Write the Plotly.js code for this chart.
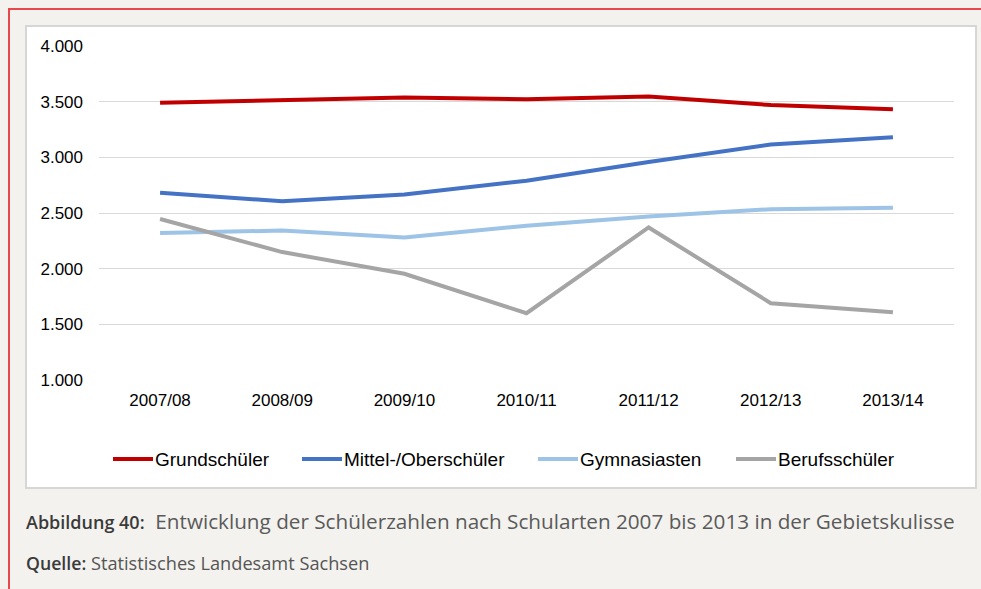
<!DOCTYPE html>
<html>
<head>
<meta charset="utf-8">
<script src="https://cdn.plot.ly/plotly-3.0.1.min.js"></script>
<style>
html,body{margin:0;padding:0;background:#f3f2ee;}
#chart{width:981px;height:589px;}
</style>
</head>
<body>
<div id="chart"></div>
<script>
// ---- data ----
const years = ["2007/08","2008/09","2009/10","2010/11","2011/12","2012/13","2013/14"];
const grundschueler = [3490, 3512, 3538, 3522, 3546, 3470, 3432];
const mittelOberschueler = [2682, 2605, 2666, 2790, 2958, 3116, 3180];
const gymnasiasten = [2320, 2342, 2281, 2386, 2468, 2534, 2548];
const berufsschueler = [2446, 2149, 1954, 1600, 2370, 1690, 1608];
const seriesNames = ["Grundschüler", "Mittel-/Oberschüler", "Gymnasiasten", "Berufsschüler"];
const seriesColors = ["#c00000", "#4472c4", "#9dc3e6", "#a5a5a5"];
const yTickVals = [1000, 1500, 2000, 2500, 3000, 3500, 4000];
const yTickText = ["1.000", "1.500", "2.000", "2.500", "3.000", "3.500", "4.000"];
const captionLabel = "Abbildung 40:";
const captionText = "Entwicklung der Schülerzahlen nach Schularten 2007 bis 2013 in der Gebietskulisse";
const sourceLabel = "Quelle:";
const sourceText = "Statistisches Landesamt Sachsen";

// ---- layout geometry (pixels) ----
const W = 981, H = 589;
const M = {l: 99, r: 27, t: 46, b: 209};
const PW = W - M.l - M.r, PH = H - M.t - M.b;
const px = x => (x - M.l) / PW;        // pixel -> paper x
const py = y => (H - M.b - y) / PH;    // pixel -> paper y

const seriesValues = [grundschueler, mittelOberschueler, gymnasiasten, berufsschueler];
const traces = seriesValues.map((vals, i) => ({
  type: "scatter", mode: "lines", x: years, y: vals, name: seriesNames[i],
  line: {color: seriesColors[i], width: 4}, showlegend: false, hoverinfo: "x+y+name"
}));

const font = "Liberation Sans, Arial, sans-serif";
const capFont = "Open Sans, Lato, sans-serif";
const shapes = [
  // white chart box
  {type: "rect", xref: "paper", yref: "paper", x0: px(26), x1: px(976), y0: py(488), y1: py(26),
   fillcolor: "#ffffff", line: {color: "#d6d6d6", width: 2}, layer: "below"},
  // red frame (top + left)
  {type: "path", xref: "paper", yref: "paper",
   path: `M ${px(1000)} ${py(9)} L ${px(9)} ${py(9)} L ${px(9)} ${py(620)}`,
   line: {color: "#e9484a", width: 2}, layer: "below"}
];
const annotations = [];
// legend built from series names/colours
const legendX = [113, 302, 538, 736];
const legendY = 459;
seriesNames.forEach((n, i) => {
  shapes.push({type: "line", xref: "paper", yref: "paper",
    x0: px(legendX[i]), x1: px(legendX[i] + 40), y0: py(legendY), y1: py(legendY),
    line: {color: seriesColors[i], width: 4}});
  annotations.push({xref: "paper", yref: "paper", x: px(legendX[i] + 40), y: py(legendY),
    xanchor: "left", yanchor: "middle", showarrow: false, text: n,
    font: {family: font, size: 19, color: "#000"}});
});
annotations.push({xref: "paper", yref: "paper", x: px(24), y: py(521), xanchor: "left", yanchor: "middle",
  showarrow: false,
  text: `<span style="font-weight:600;color:#3a3a3a;font-size:18px">${captionLabel}</span>  <span style="color:#5a5a5a">${captionText}</span>`,
  font: {family: capFont, size: 20.7, color: "#3a3a3a"}});
annotations.push({xref: "paper", yref: "paper", x: px(24), y: py(563), xanchor: "left", yanchor: "middle",
  showarrow: false,
  text: `<span style="font-weight:600;color:#3a3a3a;font-size:17.7px">${sourceLabel}</span> <span style="color:#555">${sourceText}</span>`,
  font: {family: capFont, size: 18.2, color: "#3a3a3a"}});

const layout = {
  width: W, height: H, margin: M,
  paper_bgcolor: "rgba(0,0,0,0)", plot_bgcolor: "rgba(0,0,0,0)",
  showlegend: false,
  font: {family: font, size: 17, color: "#000"},
  xaxis: {type: "category", range: [-0.5, 6.5], showgrid: false, zeroline: false, showline: false,
    ticks: "", ticklabelstandoff: 8, tickfont: {family: font, size: 17, color: "#000"}, fixedrange: true},
  yaxis: {range: [1000, 4000], tickvals: yTickVals, ticktext: yTickText, showgrid: true,
    gridcolor: "#d9d9d9", gridwidth: 1, zeroline: false, showline: false, ticks: "",
    ticklabelstandoff: 15, tickfont: {family: font, size: 17, color: "#000"}, fixedrange: true},
  shapes: shapes, annotations: annotations
};
Plotly.newPlot("chart", traces, layout, {displayModeBar: false, staticPlot: true});
</script>
</body>
</html>
